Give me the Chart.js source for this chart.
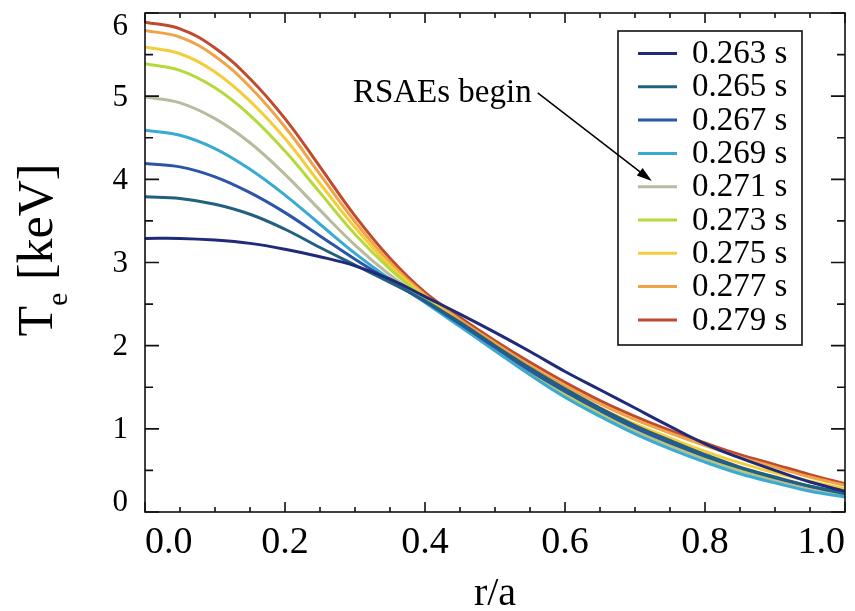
<!DOCTYPE html>
<html>
<head>
<meta charset="utf-8">
<title>Te profiles</title>
<script src="https://cdn.jsdelivr.net/npm/chart.js@4.4.0/dist/chart.umd.min.js"></script>
<style>
  body { margin: 0; background: #fff; }
</style>
</head>
<body>
<canvas id="teChart" width="855" height="611"></canvas>
<script>
// normalised radius r/a (x axis)
const radius = [0, 0.05, 0.1, 0.15, 0.2, 0.25, 0.3, 0.35, 0.4, 0.45, 0.5,
                0.55, 0.6, 0.65, 0.7, 0.75, 0.8, 0.85, 0.9, 0.95, 1.0];

// time labels for each profile
const times = ["0.263 s", "0.265 s", "0.267 s", "0.269 s", "0.271 s",
               "0.273 s", "0.275 s", "0.277 s", "0.279 s"];

// Te [keV], one array per time
const te263 = [3.29, 3.29, 3.27, 3.23, 3.16, 3.07, 2.96, 2.80, 2.59, 2.38, 2.16, 1.93, 1.69, 1.47, 1.25, 1.03, 0.82, 0.65, 0.50, 0.36, 0.25];
const te265 = [3.79, 3.77, 3.70, 3.58, 3.40, 3.18, 2.97, 2.76, 2.54, 2.28, 2.00, 1.73, 1.48, 1.25, 1.04, 0.86, 0.69, 0.54, 0.42, 0.31, 0.22];
const te267 = [4.19, 4.15, 4.03, 3.84, 3.60, 3.32, 3.04, 2.78, 2.53, 2.26, 1.98, 1.70, 1.45, 1.22, 1.01, 0.83, 0.67, 0.53, 0.41, 0.31, 0.23];
const te269 = [4.59, 4.53, 4.37, 4.12, 3.81, 3.46, 3.11, 2.80, 2.52, 2.23, 1.94, 1.65, 1.38, 1.15, 0.94, 0.76, 0.60, 0.46, 0.35, 0.25, 0.18];
const te271 = [4.99, 4.92, 4.73, 4.44, 4.06, 3.63, 3.21, 2.85, 2.55, 2.24, 1.94, 1.65, 1.39, 1.16, 0.96, 0.78, 0.62, 0.48, 0.37, 0.27, 0.19];
const te273 = [5.39, 5.31, 5.10, 4.77, 4.34, 3.84, 3.34, 2.92, 2.57, 2.25, 1.96, 1.68, 1.42, 1.19, 0.99, 0.81, 0.65, 0.51, 0.39, 0.29, 0.22];
const te275 = [5.59, 5.51, 5.29, 4.94, 4.49, 3.95, 3.42, 2.96, 2.59, 2.28, 2.00, 1.72, 1.48, 1.25, 1.06, 0.89, 0.73, 0.59, 0.47, 0.37, 0.28];
const te277 = [5.79, 5.71, 5.48, 5.11, 4.63, 4.06, 3.49, 3.00, 2.61, 2.31, 2.03, 1.76, 1.52, 1.30, 1.11, 0.95, 0.80, 0.66, 0.54, 0.42, 0.32];
const te279 = [5.89, 5.81, 5.58, 5.21, 4.73, 4.15, 3.56, 3.05, 2.64, 2.34, 2.06, 1.80, 1.56, 1.34, 1.15, 0.98, 0.83, 0.69, 0.57, 0.45, 0.34];

const profiles = [te263, te265, te267, te269, te271, te273, te275, te277, te279];
const colors = ["#1f2a78", "#22607f", "#2a55a8", "#3aaad2", "#b8bba0",
                "#b5d83a", "#f5cd3a", "#f0a448", "#c04a2e"];

// axis ticks
const xTickStep = 0.2, xMinorStep = 0.05;
const yTickLabels = [0, 1, 2, 3, 4, 5, 6];
const yMinorStep = 0.5;

const serif = "'Liberation Serif', 'Times New Roman', serif";
Chart.defaults.font.family = serif;
Chart.defaults.color = "#000";

// box round the plot with inward ticks on all four sides
const framePlugin = {
  id: 'frame',
  afterDatasetsDraw(chart) {
    const {ctx, chartArea: a, scales: {x, y}} = chart;
    ctx.save();
    ctx.strokeStyle = '#111';
    ctx.lineWidth = 1.6;
    ctx.strokeRect(a.left, a.top, a.right - a.left, a.bottom - a.top);
    ctx.beginPath();
    for (let i = 0; i <= Math.round((x.max - x.min) / xMinorStep); i++) {
      const px = x.getPixelForValue(x.min + i * xMinorStep);
      const len = (i % Math.round(xTickStep / xMinorStep) === 0) ? 10 : 5;
      ctx.moveTo(px, a.bottom); ctx.lineTo(px, a.bottom - len);
      ctx.moveTo(px, a.top); ctx.lineTo(px, a.top + len);
    }
    for (let i = 0; i <= Math.round((y.max - y.min) / yMinorStep); i++) {
      const py = y.getPixelForValue(y.min + i * yMinorStep);
      const len = (i % 2 === 0) ? 14 : 8;
      ctx.moveTo(a.left, py); ctx.lineTo(a.left + len, py);
      ctx.moveTo(a.right, py); ctx.lineTo(a.right - len, py);
    }
    ctx.stroke();

    // y tick labels, end ones pulled inside the frame
    ctx.font = '31px ' + serif;
    ctx.fillStyle = '#000';
    ctx.textAlign = 'right';
    ctx.textBaseline = 'middle';
    yTickLabels.forEach(v => {
      let py = y.getPixelForValue(v) + 1.5;
      if (v === y.min) py -= 11;
      if (v === y.max) py += 12;
      ctx.fillText(String(v), a.left - 17, py);
    });
    ctx.restore();
  }
};

// y title with subscript e
const yTitlePlugin = {
  id: 'yTitle',
  afterDraw(chart) {
    const {ctx} = chart;
    const big = '50px ' + serif, small = '30px ' + serif;
    ctx.save();
    ctx.font = big;
    const wT = ctx.measureText('T').width;
    const wRest = ctx.measureText(' [keV]').width;
    ctx.font = small;
    const wE = ctx.measureText('e').width;
    const total = wT + wE + wRest;
    ctx.translate(52, 250);
    ctx.rotate(-Math.PI / 2);
    ctx.fillStyle = '#000';
    ctx.textBaseline = 'alphabetic';
    ctx.textAlign = 'left';
    let cx = -total / 2;
    ctx.font = big;
    ctx.fillText('T', cx, 0);
    cx += wT;
    ctx.font = small;
    ctx.fillText('e', cx, 15);
    cx += wE;
    ctx.font = big;
    ctx.fillText(' [keV]', cx, 0);
    ctx.restore();
  }
};

// framed legend in the upper right
const legendBoxPlugin = {
  id: 'legendBox',
  afterDraw(chart) {
    const {ctx} = chart;
    const box = {left: 618, top: 31, right: 802, bottom: 345};
    ctx.save();
    ctx.fillStyle = '#fff';
    ctx.fillRect(box.left, box.top, box.right - box.left, box.bottom - box.top);
    ctx.strokeStyle = '#111';
    ctx.lineWidth = 1.6;
    ctx.strokeRect(box.left, box.top, box.right - box.left, box.bottom - box.top);
    ctx.font = '33px ' + serif;
    ctx.textBaseline = 'middle';
    ctx.textAlign = 'left';
    chart.data.datasets.forEach((ds, i) => {
      const cy = 53.5 + i * 33.3;
      ctx.strokeStyle = ds.borderColor;
      ctx.lineWidth = 3;
      ctx.beginPath();
      ctx.moveTo(638, cy); ctx.lineTo(677, cy);
      ctx.stroke();
      ctx.fillStyle = '#000';
      ctx.fillText(ds.label, 692, cy + 1);
    });
    ctx.restore();
  }
};

// "RSAEs begin" arrow, placed in data coordinates
const note = {text: "RSAEs begin", tx: 0.297, ty: 4.93, fromX: 0.561, fromY: 5.04, toX: 0.724, toY: 3.98};
const notePlugin = {
  id: 'note',
  afterDraw(chart) {
    const {ctx, scales: {x, y}} = chart;
    ctx.save();
    ctx.font = '33px ' + serif;
    ctx.fillStyle = '#000';
    ctx.textBaseline = 'alphabetic';
    ctx.fillText(note.text, x.getPixelForValue(note.tx), y.getPixelForValue(note.ty));
    const x0 = x.getPixelForValue(note.fromX), y0 = y.getPixelForValue(note.fromY);
    const x1 = x.getPixelForValue(note.toX), y1 = y.getPixelForValue(note.toY);
    const ang = Math.atan2(y1 - y0, x1 - x0);
    const head = 16;
    ctx.strokeStyle = '#000';
    ctx.lineWidth = 1.5;
    ctx.beginPath();
    ctx.moveTo(x0, y0);
    ctx.lineTo(x1 - head * 0.8 * Math.cos(ang), y1 - head * 0.8 * Math.sin(ang));
    ctx.stroke();
    ctx.beginPath();
    ctx.moveTo(x1, y1);
    ctx.lineTo(x1 - head * Math.cos(ang - 0.3), y1 - head * Math.sin(ang - 0.3));
    ctx.lineTo(x1 - head * Math.cos(ang + 0.3), y1 - head * Math.sin(ang + 0.3));
    ctx.closePath();
    ctx.fill();
    ctx.restore();
  }
};

new Chart(document.getElementById('teChart'), {
  type: 'line',
  data: {
    datasets: profiles.map((vals, i) => ({
      label: times[i],
      data: radius.map((r, j) => ({x: r, y: vals[j]})),
      borderColor: colors[i],
      backgroundColor: colors[i],
      borderWidth: 3,
      pointRadius: 0,
      fill: false,
      tension: 0.4
    }))
  },
  options: {
    responsive: false,
    animation: false,
    layout: {padding: {top: 13, right: 10, left: 0, bottom: 0}},
    plugins: {
      legend: {display: false},
      tooltip: {enabled: false}
    },
    scales: {
      x: {
        type: 'linear',
        min: 0,
        max: 1,
        grid: {display: false, drawTicks: false},
        border: {display: false},
        ticks: {
          stepSize: xTickStep,
          align: 'inner',
          padding: 8,
          font: {size: 38},
          callback: v => v.toFixed(1)
        },
        title: {
          display: true,
          text: 'r/a',
          font: {size: 40, lineHeight: 1},
          padding: {top: 0, bottom: -3}
        },
        afterFit(scale) {
          scale.height = 99;
          scale.paddingLeft = 0;
          scale.paddingRight = 0;
        }
      },
      y: {
        min: 0,
        max: 6,
        grid: {display: false, drawTicks: false},
        border: {display: false},
        ticks: {display: false, stepSize: 1},
        afterFit(scale) {
          scale.width = 145;
          scale.paddingTop = 0;
          scale.paddingBottom = 0;
        }
      }
    }
  },
  plugins: [framePlugin, yTitlePlugin, legendBoxPlugin, notePlugin]
});
</script>
</body>
</html>
